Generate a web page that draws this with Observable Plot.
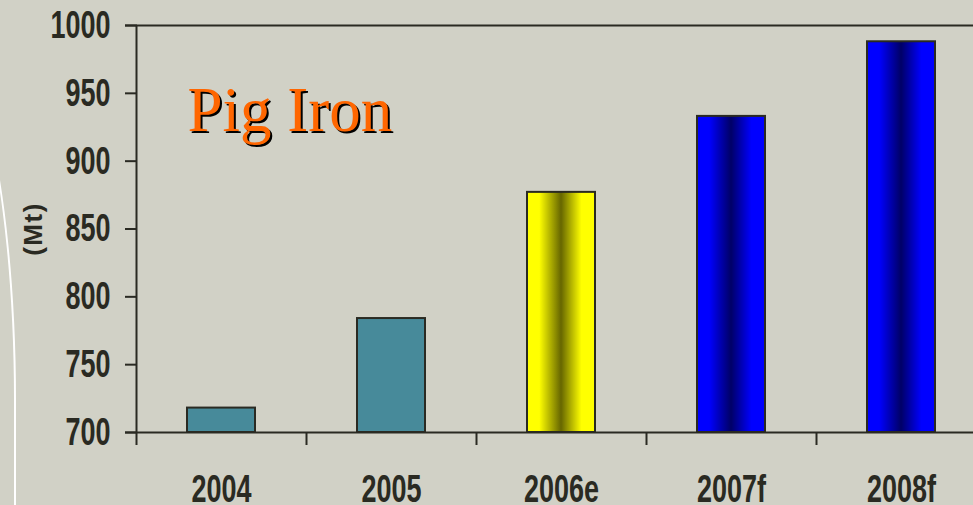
<!DOCTYPE html>
<html>
<head>
<meta charset="utf-8">
<script src="https://cdn.jsdelivr.net/npm/d3@7"></script>
<script src="https://cdn.jsdelivr.net/npm/@observablehq/plot@0.6"></script>
<style>
  html, body { margin: 0; padding: 0; background: #d1d1c6; overflow: hidden; }
  #wrap { position: relative; width: 973px; height: 505px; }
  #deco { position: absolute; left: 0; top: 0; width: 30px; height: 400px; overflow: hidden; pointer-events: none; }
  #deco div { position: absolute; left: -178px; top: 0; width: 194px; height: 800px; box-sizing: border-box; border: 2px solid #fff; border-radius: 50%; }
  #deco2 { position: absolute; left: 14px; top: 399px; width: 2px; height: 106px; background: #fff; pointer-events: none; }
  #chart svg { display: block; }
</style>
</head>
<body>
<div id="wrap">
  <div id="deco"><div></div></div>
  <div id="deco2"></div>
  <div id="chart"></div>
</div>
<script>
// Data
const years = ["2004", "2005", "2006e", "2007f", "2008f"];
const values = [718, 784, 877, 933, 988];
const kinds = ["actual", "actual", "estimate", "forecast", "forecast"];
const yTicks = [700, 750, 800, 850, 900, 950, 1000];
const titleText = ["Pig Iron"];
const yLabel = ["(Mt)"];

const table = years.map((year, i) => ({year, value: values[i], kind: kinds[i]}));

const dark = "#2a2a22";
const teal = "#478a9a";
const step = 170;
const sansFont = "'Liberation Sans', Arial, sans-serif";
const serifFont = "'Liberation Serif', 'Times New Roman', serif";

const chart = Plot.plot({
  width: 973,
  height: 505,
  marginTop: 25,
  marginBottom: 73,
  marginLeft: 137,
  marginRight: 0,
  style: {background: "transparent", color: dark, fontFamily: sansFont},
  x: {domain: years, range: [136, 136 + step * years.length], paddingInner: 0.6, paddingOuter: 0.3},
  y: {domain: [700, 1000]},
  marks: [
    Plot.barY(table.filter(d => d.kind === "actual"), {x: "year", y1: 700, y2: "value", fill: teal, stroke: dark, strokeWidth: 2}),
    Plot.barY(table.filter(d => d.kind === "estimate"), {x: "year", y1: 700, y2: "value", fill: "url(#gradYellow)", stroke: dark, strokeWidth: 2}),
    Plot.barY(table.filter(d => d.kind === "forecast"), {x: "year", y1: 700, y2: "value", fill: "url(#gradBlue)", stroke: dark, strokeWidth: 2}),
    Plot.ruleY([yTicks[0], yTicks[yTicks.length - 1]], {stroke: dark, strokeWidth: 2, insetLeft: -12}),
    Plot.ruleX(years, {x: d => d, dx: -step / 2, y1: 690.4, y2: d => d === years[0] ? 1000 : 700, stroke: dark, strokeWidth: 2}),
    Plot.axisY(yTicks, {tickSize: 12, tickPadding: 15, tickFormat: d => String(d), fontSize: 30, fontWeight: "bold", stroke: dark, fill: dark, strokeWidth: 2, label: null}),
    Plot.axisX({tickSize: 0, tickPadding: 42, fontSize: 30, fontWeight: "bold", fill: dark, label: null}),
    Plot.text(yLabel, {text: d => d, frameAnchor: "left", dx: -104, rotate: -90, textAnchor: "middle", lineAnchor: "middle", fontSize: 26, fontWeight: "bold", fontFamily: sansFont, fill: dark}),
    Plot.text(titleText, {text: d => d, frameAnchor: "top-left", dx: 52, dy: 107, lineAnchor: "bottom", textAnchor: "start", fontFamily: serifFont, fontSize: 63, fill: "#000"}),
    Plot.text(titleText, {text: d => d, frameAnchor: "top-left", dx: 50, dy: 105, lineAnchor: "bottom", textAnchor: "start", fontFamily: serifFont, fontSize: 63, fill: "#ff6600"})
  ]
});

const svg = d3.select(chart);
const defs = svg.insert("defs", ":first-child");
function grad(id, edge, mid) {
  const g = defs.append("linearGradient").attr("id", id).attr("x1", "0").attr("x2", "1").attr("y1", "0").attr("y2", "0");
  [[0, edge], [0.18, edge], [0.5, mid], [0.8, edge], [1, edge]].forEach(([o, c]) => g.append("stop").attr("offset", o).attr("stop-color", c));
}
grad("gradYellow", "#ffff00", "#666600");
grad("gradBlue", "#0000ff", "#000066");

// Narrow, tall lettering for the tick labels (the source font is condensed)
const tickLabels = new Set([...yTicks.map(String), ...years]);
svg.selectAll("text").each(function () {
  const txt = this.textContent;
  if (txt === yLabel[0]) { this.style.letterSpacing = "1.5px"; return; }
  if (!tickLabels.has(txt)) return;
  const t = this.getAttribute("transform") || "";
  this.setAttribute("transform", `${t} scale(0.9,1.3)`);
});

document.getElementById("chart").appendChild(chart);
</script>
</body>
</html>
